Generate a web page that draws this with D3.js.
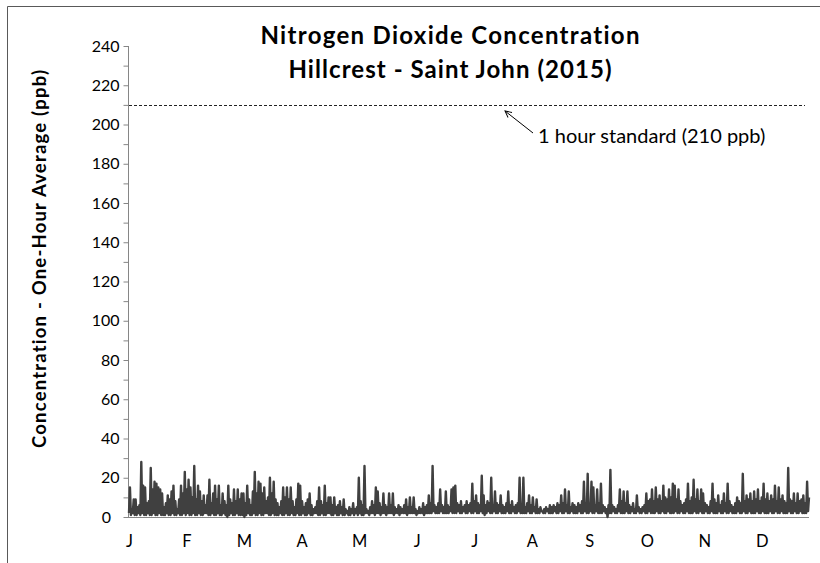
<!DOCTYPE html>
<html><head><meta charset="utf-8">
<script src="https://cdn.jsdelivr.net/npm/d3@7/dist/d3.min.js"></script>
<style>
body{margin:0;background:#fff}
text{font-family:Lato,"Open Sans",sans-serif;font-variant-ligatures:none}
</style>
</head><body>
<svg id="chart" width="820" height="563"></svg>
<script>
// ---- data ----
const titleLines = ["Nitrogen Dioxide Concentration", "Hillcrest - Saint John (2015)"];
const yAxisTitle = "Concentration - One-Hour Average (ppb)";
const monthLabels = ["J","F","M","A","M","J","J","A","S","O","N","D"];
// label positions along the time axis (day of year)
const monthLabelDays = [0,30.4,60.8,91.3,121.7,152.1,182.5,212.9,243.3,273.8,304.2,334.6];
const yTickValues = [0,20,40,60,80,100,120,140,160,180,200,220,240];
const standardValue = 210;
const standardLabel = "1 hour standard (210 ppb)";

// daily maximum of the hourly NO2 values (ppb), Jan 1 .. Dec 26
const dailyMax = [
15,4,9,9,5,6,28,16,15,7, 8,25,14,18,17,15,14,12,5,7,
11,9,13,16,8,4,9,16,12,23, 14,19,15,10,26,9,16,13,8,11,
6,11,19,7,12,16,9,16,6,12, 8,6,16,9,7,14,8,14,9,12,
12,7,16,9,6,13,23,12,18,17, 12,15,8,10,20,12,18,9,7,5,
8,15,10,15,9,15,8,5,9,17, 16,8,5,7,9,12,6,4,5,8,
15,8,6,16,7,10,10,6,10,5, 6,8,5,9,4,3,5,4,7,4,
5,20,8,6,26,4,3,5,8,6, 15,13,7,5,12,6,5,12,6,12,
5,4,6,5,4,6,9,5,10,5, 10,4,3,5,4,7,5,6,11,7,
26,6,5,7,14,6,5,13,6,5, 14,15,16,7,6,8,5,6,8,6,
7,17,8,11,7,6,21,11,6,8, 7,20,6,13,7,6,11,6,5,7,
13,6,8,5,6,7,20,6,20,5, 7,11,6,10,5,9,4,5,3,4,
5,4,6,5,6,5,7,6,11,7, 14,6,13,5,7,6,5,7,6,8,
18,7,22,6,18,15,6,14,7,17, 6,5,4,6,24,6,5,4,6,14,
8,13,7,13,6,5,7,4,11,5, 4,5,6,12,8,9,14,8,15,9,
11,8,16,10,9,14,10,17,16,9, 14,8,6,7,9,17,8,10,19,9,
14,8,14,12,7,6,5,8,17,9, 7,11,6,8,12,7,17,8,6,5,
7,10,8,7,22,8,11,9,12,8, 13,9,14,8,10,17,9,12,8,11,
9,16,8,15,9,11,8,7,25,9, 8,12,7,12,8,9,11,7,18,10
];
// daily minimum of the hourly NO2 values (ppb)
const dailyMin = [
2,1,2,1,1,2,1,2,1,1,2,1,1,2,1,1,2,1,1,1,2,1,1,2,1,1,2,1,1,2,
1,2,1,1,2,1,1,2,1,1,2,2,1,1,2,1,1,2,1,1,2,1,0,1,2,1,1,2,1,1,
1,0,1,2,1,1,2,1,1,2,1,1,2,2,1,1,2,1,1,1,2,1,1,2,1,1,2,1,1,2,
1,1,2,1,1,2,1,1,2,2,1,1,2,1,1,2,2,1,1,2,1,1,2,1,1,2,1,1,2,1,
2,1,2,1,1,2,2,1,2,2,1,2,2,1,2,2,1,2,2,2,1,2,2,1,2,2,2,1,2,2,
2,2,1,2,2,2,1,2,2,2,2,3,2,2,2,3,2,2,2,2,3,2,2,2,3,2,2,3,2,2,
3,2,2,3,2,2,3,2,1,2,3,2,2,3,2,2,3,2,2,2,3,2,2,3,2,2,3,2,2,2,
2,3,2,2,3,2,2,2,3,2,2,3,2,2,2,3,2,2,3,2,2,3,2,2,3,2,2,2,3,2,
2,3,2,2,3,2,2,3,2,2,2,3,2,0,2,2,3,2,2,3,2,2,2,3,2,2,3,2,2,3,
2,2,3,2,2,3,2,2,2,3,2,2,3,2,2,3,2,2,2,3,2,2,3,2,2,3,2,2,2,3,
2,2,3,2,2,3,2,2,3,2,2,2,3,2,2,3,2,2,3,2,2,2,3,2,2,3,2,2,3,2,
2,2,3,2,2,3,2,2,2,3,2,2,3,2,2,3,2,2,2,3,2,2,3,2,2,3,2,2,2,3
];

// ---- drawing ----
const svg = d3.select("#chart");
const W = 820, H = 563;
const x = d3.scaleLinear().domain([0, 359.5]).range([129, 809]);
const y = d3.scaleLinear().domain([0, 240]).range([517, 46]);
const FONT = "Lato,'Open Sans',sans-serif";

// outer frame (top + left visible)
svg.append("path").attr("d", `M7.5,${H} V6.5 H${W}`)
  .attr("fill","none").attr("stroke","#595959").attr("stroke-width",1);

// Title
const titleWidths = [379, 323];
svg.selectAll("text.title").data(titleLines).enter().append("text")
  .attr("class","title")
  .attr("x", 450).attr("y", (d,i) => 44 + i*33.5)
  .attr("text-anchor","middle").attr("font-weight","bold")
  .attr("font-size", 24).attr("fill","#000")
  .attr("textLength", (d,i) => titleWidths[i]).attr("lengthAdjust","spacing")
  .text(d => d);

// Y axis
const yAxis = d3.axisLeft(y)
  .tickValues(d3.range(0, 241, 10))
  .tickSize(5).tickPadding(4)
  .tickFormat(d => yTickValues.includes(d) ? d : "");
const gy = svg.append("g").attr("transform","translate(128.5,0)").call(yAxis);
gy.select(".domain").attr("stroke","#868686").attr("d", `M0,${y(240)}V${y(0)}`);
gy.selectAll(".tick line").attr("stroke","#868686");
gy.selectAll(".tick text").attr("font-size",16).attr("fill","#000").attr("font-family",FONT);
// the zero label sits a little further left in the original
gy.selectAll(".tick text").filter(d => d === 0).attr("text-anchor","middle").attr("x",-22);

// X axis
const gx = svg.append("g").attr("transform",`translate(0,${y(0)+0.5})`)
  .call(d3.axisBottom(x).tickValues(monthLabelDays).tickSize(0).tickPadding(18)
    .tickFormat((d,i) => monthLabels[i]));
gx.select(".domain").attr("stroke","#868686").attr("d", `M128,0H809`);
gx.selectAll(".tick text").attr("font-size",16.5).attr("fill","#000").attr("font-family",FONT);

// Y axis title
svg.append("text")
  .attr("transform","translate(46,259) rotate(-90)")
  .attr("text-anchor","middle").attr("font-weight","bold")
  .attr("font-size",18.5).attr("fill","#000")
  .attr("textLength",378).attr("lengthAdjust","spacing")
  .text(yAxisTitle);

// data line (daily min/max zigzag of hourly values)
const pts = [];
dailyMax.forEach((mx, i) => { pts.push([i, dailyMin[i]]); pts.push([i + 0.5, mx]); });
svg.append("path").datum(pts)
  .attr("fill","none").attr("stroke","#404040").attr("stroke-width",2.4)
  .attr("stroke-linejoin","round")
  .attr("d", d3.line().x(d => x(d[0])).y(d => y(d[1])));

// standard line
svg.append("line")
  .attr("x1",129).attr("x2",805)
  .attr("y1",Math.round(y(standardValue))+0.5).attr("y2",Math.round(y(standardValue))+0.5)
  .attr("stroke","#222").attr("stroke-width",1).attr("stroke-dasharray","3,2");

// annotation arrow
svg.append("defs").append("marker").attr("id","arr")
  .attr("viewBox","0 0 10 10").attr("refX",9).attr("refY",5)
  .attr("markerWidth",8).attr("markerHeight",8).attr("orient","auto")
  .attr("markerUnits","userSpaceOnUse")
  .append("path").attr("d","M1,1 L9,5 L1,9").attr("fill","none").attr("stroke","#000").attr("stroke-width",1.2);
svg.append("line").attr("x1",533).attr("y1",133).attr("x2",505).attr("y2",111)
  .attr("stroke","#000").attr("stroke-width",1).attr("marker-end","url(#arr)");
svg.append("text").attr("x",538).attr("y",143).attr("font-size",20)
  .attr("fill","#000").text(standardLabel);
</script>
</body></html>
